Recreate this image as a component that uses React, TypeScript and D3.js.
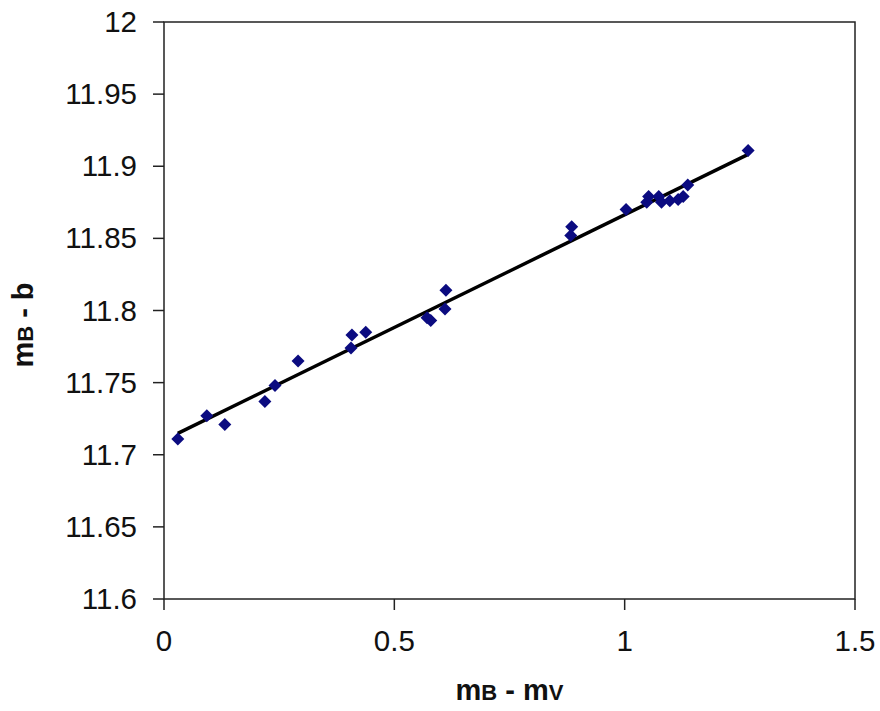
import React from "react";
import * as d3 from "d3";

const colorIndex: number[] = [0.030, 0.093, 0.132, 0.219, 0.241, 0.291, 0.406, 0.408, 0.438, 0.571, 0.579, 0.610, 0.612, 0.883, 0.885, 1.003, 1.048, 1.052, 1.074, 1.080, 1.098, 1.116, 1.127, 1.137, 1.268];
const magDiff: number[] = [11.711, 11.727, 11.721, 11.737, 11.748, 11.765, 11.774, 11.783, 11.785, 11.795, 11.793, 11.801, 11.814, 11.852, 11.858, 11.870, 11.875, 11.879, 11.879, 11.875, 11.876, 11.877, 11.879, 11.887, 11.911];

const xTicks: number[] = [0, 0.5, 1, 1.5];
const yTicks: number[] = [11.6, 11.65, 11.7, 11.75, 11.8, 11.85, 11.9, 11.95, 12];

const W = 880, H = 711;
const left = 164, right = 855, top = 22, bottom = 599;

export default function App() {
  const x = d3.scaleLinear().domain([0, 1.5]).range([left, right]);
  const y = d3.scaleLinear().domain([11.6, 12]).range([bottom, top]);

  const n = colorIndex.length;
  const mx = d3.mean(colorIndex)!;
  const my = d3.mean(magDiff)!;
  let sxy = 0, sxx = 0;
  for (let i = 0; i < n; i++) {
    sxy += (colorIndex[i] - mx) * (magDiff[i] - my);
    sxx += (colorIndex[i] - mx) ** 2;
  }
  const slope = sxy / sxx;
  const icpt = my - slope * mx;
  const x0 = d3.min(colorIndex)!, x1 = d3.max(colorIndex)!;
  const line = d3.line<number>().x((d) => x(d)).y((d) => y(icpt + slope * d));

  const fmt = (v: number) => String(+v.toFixed(2));
  const font = "'Liberation Sans', Arial, sans-serif";

  return (
    <svg width={W} height={H} style={{ position: "absolute", left: 0, top: 0, background: "#fff" }} fontFamily={font}>
      <rect x={0} y={0} width={W} height={H} fill="#fff" />
      {yTicks.map((t) => (
        <g key={"y" + t}>
          <line x1={left - 11} x2={left} y1={y(t)} y2={y(t)} stroke="#222" strokeWidth={1.5} />
          <text x={137} y={y(t) + 10} textAnchor="end" fontSize={29.5} fill="#111">{fmt(t)}</text>
        </g>
      ))}
      {xTicks.map((t) => (
        <g key={"x" + t}>
          <line x1={x(t)} x2={x(t)} y1={bottom} y2={bottom + 11} stroke="#222" strokeWidth={1.5} />
          <text x={x(t)} y={651} textAnchor="middle" fontSize={29.5} fill="#111">{fmt(t)}</text>
        </g>
      ))}
      <rect x={left} y={top} width={right - left} height={bottom - top} fill="none" stroke="#222" strokeWidth={1.5} />
      <path d={line([x0, x1]) || ""} stroke="#000" strokeWidth={3.5} fill="none" />
      {colorIndex.map((c, i) => (
        <path key={i} transform={`translate(${x(c)},${y(magDiff[i])})`} d="M0,-6.5L6.5,0L0,6.5L-6.5,0Z" fill="#0b0b80" />
      ))}
      <text x={(left + right) / 2} y={700} textAnchor="middle" fontSize={29} fontWeight="bold" fill="#111">
        m<tspan fontSize={22}>B</tspan> - m<tspan fontSize={22}>V</tspan>
      </text>
      <text transform={`translate(33,325) rotate(-90)`} textAnchor="middle" fontSize={29} fontWeight="bold" fill="#111">
        m<tspan fontSize={22}>B</tspan> - b
      </text>
    </svg>
  );
}
